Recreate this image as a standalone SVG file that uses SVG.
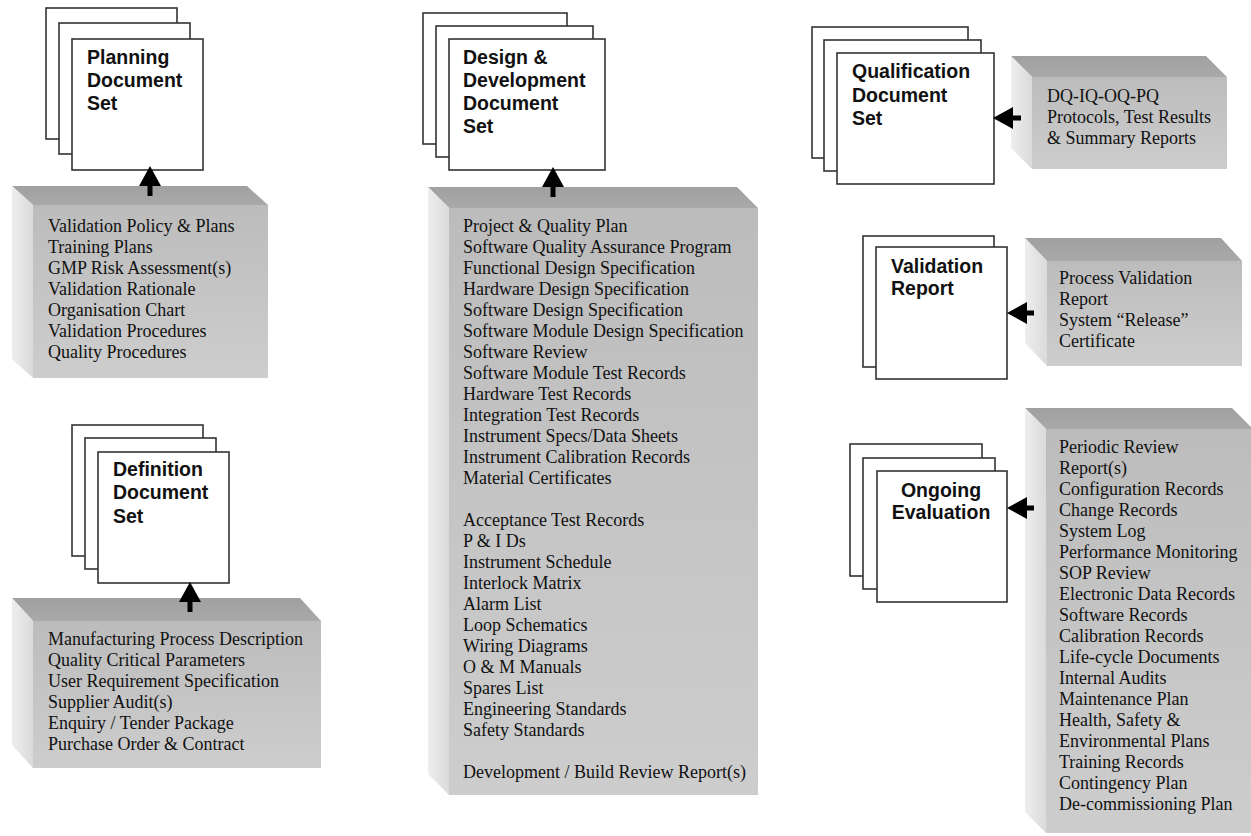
<svg xmlns="http://www.w3.org/2000/svg" width="1251" height="836" viewBox="0 0 1251 836">
<defs>
<linearGradient id="gFront" x1="0" y1="0" x2="0" y2="1">
<stop offset="0" stop-color="#bcbcbc"/>
<stop offset="1" stop-color="#cdcdcd"/>
</linearGradient>
<linearGradient id="gTop" x1="0" y1="0" x2="0" y2="1">
<stop offset="0" stop-color="#a0a0a0"/>
<stop offset="1" stop-color="#a9a9a9"/>
</linearGradient>
<linearGradient id="gSide" x1="0" y1="0" x2="1" y2="0">
<stop offset="0" stop-color="#eeeeee"/>
<stop offset="1" stop-color="#dadada"/>
</linearGradient>
<marker id="ah" markerUnits="userSpaceOnUse" markerWidth="21" markerHeight="22" viewBox="0 0 20 22" refX="0" refY="11" orient="auto">
<path d="M0,0 L20,11 L0,22 z" fill="#000"/>
</marker>
</defs>
<style>
.page{fill:#fff;stroke:#333;stroke-width:1.6}
.front{fill:url(#gFront)}
.top{fill:url(#gTop)}
.side{fill:url(#gSide)}
.title{font-family:"Liberation Sans",Arial,sans-serif;font-weight:bold;font-size:19.5px;fill:#111}
.item{font-family:"Liberation Serif","Times New Roman",serif;font-size:18px;fill:#111}
.conn{stroke:#000;stroke-width:5;fill:none;marker-end:url(#ah)}
</style>
<rect width="1251" height="836" fill="#fff"/>

<!-- Planning -->
<g id="planning-docs">
<rect class="page" x="46" y="8" width="131" height="131"/>
<rect class="page" x="59" y="23" width="131" height="131"/>
<rect class="page" x="72" y="39" width="131" height="131"/>
<text class="title"><tspan x="87" y="64">Planning</tspan><tspan x="87" y="87">Document</tspan><tspan x="87" y="110">Set</tspan></text>
</g>
<g id="planning-items">
<polygon class="top" points="12,186 247,186 268,205 33,205"/>
<polygon class="side" points="12,186 33,205 33,378 12,359"/>
<rect class="front" x="33" y="205" width="235" height="173"/>
<text class="item"><tspan x="48" y="232">Validation Policy &amp; Plans</tspan><tspan x="48" y="253">Training Plans</tspan><tspan x="48" y="274">GMP Risk Assessment(s)</tspan><tspan x="48" y="295">Validation Rationale</tspan><tspan x="48" y="316">Organisation Chart</tspan><tspan x="48" y="337">Validation Procedures</tspan><tspan x="48" y="358">Quality Procedures</tspan></text>
</g>

<!-- Definition -->
<g id="definition-docs">
<rect class="page" x="72" y="425" width="131" height="131"/>
<rect class="page" x="85" y="438" width="131" height="131"/>
<rect class="page" x="98" y="452" width="131" height="131"/>
<text class="title"><tspan x="113" y="476">Definition</tspan><tspan x="113" y="499">Document</tspan><tspan x="113" y="523">Set</tspan></text>
</g>
<g id="definition-items">
<polygon class="top" points="12,598 300,598 321,621 33,621"/>
<polygon class="side" points="12,598 33,621 33,768 12,745"/>
<rect class="front" x="33" y="621" width="288" height="147"/>
<text class="item"><tspan x="48" y="645">Manufacturing Process Description</tspan><tspan x="48" y="666">Quality Critical Parameters</tspan><tspan x="48" y="687">User Requirement Specification</tspan><tspan x="48" y="708">Supplier Audit(s)</tspan><tspan x="48" y="729">Enquiry / Tender Package</tspan><tspan x="48" y="750">Purchase Order &amp; Contract</tspan></text>
</g>

<!-- Design & Development -->
<g id="design-docs">
<rect class="page" x="423" y="13" width="144" height="131"/>
<rect class="page" x="436" y="26" width="157" height="131"/>
<rect class="page" x="449" y="39" width="156" height="131"/>
<text class="title"><tspan x="463" y="64">Design &amp;</tspan><tspan x="463" y="87">Development</tspan><tspan x="463" y="110">Document</tspan><tspan x="463" y="133">Set</tspan></text>
</g>
<g id="design-items">
<polygon class="top" points="428,187 737,187 758,208 449,208"/>
<polygon class="side" points="428,187 449,208 449,795 428,774"/>
<rect class="front" x="449" y="208" width="309" height="587"/>
<text class="item"><tspan x="463" y="232">Project &amp; Quality Plan</tspan><tspan x="463" y="253">Software Quality Assurance Program</tspan><tspan x="463" y="274">Functional Design Specification</tspan><tspan x="463" y="295">Hardware Design Specification</tspan><tspan x="463" y="316">Software Design Specification</tspan><tspan x="463" y="337">Software Module Design Specification</tspan><tspan x="463" y="358">Software Review</tspan><tspan x="463" y="379">Software Module Test Records</tspan><tspan x="463" y="400">Hardware Test Records</tspan><tspan x="463" y="421">Integration Test Records</tspan><tspan x="463" y="442">Instrument Specs/Data Sheets</tspan><tspan x="463" y="463">Instrument Calibration Records</tspan><tspan x="463" y="484">Material Certificates</tspan><tspan x="463" y="526">Acceptance Test Records</tspan><tspan x="463" y="547">P &amp; I Ds</tspan><tspan x="463" y="568">Instrument Schedule</tspan><tspan x="463" y="589">Interlock Matrix</tspan><tspan x="463" y="610">Alarm List</tspan><tspan x="463" y="631">Loop Schematics</tspan><tspan x="463" y="652">Wiring Diagrams</tspan><tspan x="463" y="673">O &amp; M Manuals</tspan><tspan x="463" y="694">Spares List</tspan><tspan x="463" y="715">Engineering Standards</tspan><tspan x="463" y="736">Safety Standards</tspan><tspan x="463" y="778">Development / Build Review Report(s)</tspan></text>
</g>

<!-- Qualification -->
<g id="qualification-docs">
<rect class="page" x="812" y="27" width="156" height="131"/>
<rect class="page" x="824" y="40" width="157" height="131"/>
<rect class="page" x="837" y="53" width="157" height="131"/>
<text class="title"><tspan x="852" y="78">Qualification</tspan><tspan x="852" y="102">Document</tspan><tspan x="852" y="125">Set</tspan></text>
</g>
<g id="qualification-items">
<polygon class="top" points="1011,56 1206,56 1227,77 1032,77"/>
<polygon class="side" points="1011,56 1032,77 1032,169 1011,148"/>
<rect class="front" x="1032" y="77" width="195" height="92"/>
<text class="item"><tspan x="1047" y="102">DQ-IQ-OQ-PQ</tspan><tspan x="1047" y="123">Protocols, Test Results</tspan><tspan x="1047" y="144">&amp; Summary Reports</tspan></text>
</g>

<!-- Validation Report -->
<g id="validation-docs">
<rect class="page" x="863" y="236" width="131" height="131"/>
<rect class="page" x="876" y="247" width="131" height="132"/>
<text class="title"><tspan x="891" y="273">Validation</tspan><tspan x="891" y="295">Report</tspan></text>
</g>
<g id="validation-items">
<polygon class="top" points="1025,238 1221,238 1242,261 1047,261"/>
<polygon class="side" points="1025,238 1047,261 1047,366 1025,343"/>
<rect class="front" x="1047" y="261" width="195" height="105"/>
<text class="item"><tspan x="1059" y="284">Process Validation</tspan><tspan x="1059" y="305">Report</tspan><tspan x="1059" y="326">System “Release”</tspan><tspan x="1059" y="347">Certificate</tspan></text>
</g>

<!-- Ongoing Evaluation -->
<g id="ongoing-docs">
<rect class="page" x="850" y="444" width="132" height="132"/>
<rect class="page" x="863" y="458" width="132" height="131"/>
<rect class="page" x="877" y="471" width="130" height="131"/>
<text class="title" text-anchor="middle"><tspan x="941" y="497">Ongoing</tspan><tspan x="941" y="519">Evaluation</tspan></text>
</g>
<g id="ongoing-items">
<polygon class="top" points="1025,408 1232,408 1253,429 1046,429"/>
<polygon class="side" points="1025,408 1046,429 1046,833 1025,812"/>
<rect class="front" x="1046" y="429" width="207" height="404"/>
<text class="item"><tspan x="1059" y="453">Periodic Review</tspan><tspan x="1059" y="474">Report(s)</tspan><tspan x="1059" y="495">Configuration Records</tspan><tspan x="1059" y="516">Change Records</tspan><tspan x="1059" y="537">System Log</tspan><tspan x="1059" y="558">Performance Monitoring</tspan><tspan x="1059" y="579">SOP Review</tspan><tspan x="1059" y="600">Electronic Data Records</tspan><tspan x="1059" y="621">Software Records</tspan><tspan x="1059" y="642">Calibration Records</tspan><tspan x="1059" y="663">Life-cycle Documents</tspan><tspan x="1059" y="684">Internal Audits</tspan><tspan x="1059" y="705">Maintenance Plan</tspan><tspan x="1059" y="726">Health, Safety &amp;</tspan><tspan x="1059" y="747">Environmental Plans</tspan><tspan x="1059" y="768">Training Records</tspan><tspan x="1059" y="789">Contingency Plan</tspan><tspan x="1059" y="810">De-commissioning Plan</tspan></text>
</g>

<g id="connectors">
<line class="conn" x1="150" y1="196" x2="150" y2="186"/>
<line class="conn" x1="190" y1="612" x2="190" y2="602"/>
<line class="conn" x1="553" y1="197" x2="553" y2="187"/>
<line class="conn" x1="1021" y1="118" x2="1013" y2="118"/>
<line class="conn" x1="1034" y1="313" x2="1027" y2="313"/>
<line class="conn" x1="1034" y1="508" x2="1027" y2="508"/>
</g>
</svg>
